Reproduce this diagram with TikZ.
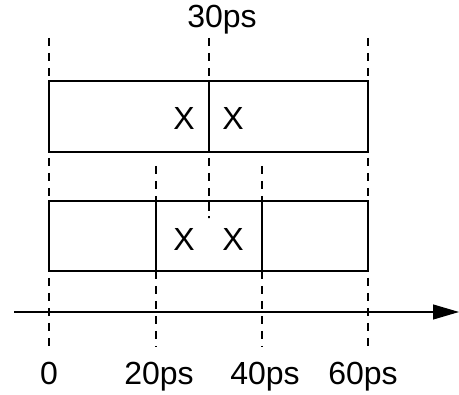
\documentclass[tikz,border=0pt]{standalone}
\usepackage{fontspec}
\setmainfont{Liberation Sans}
\usetikzlibrary{arrows.meta}
\begin{document}
\begin{tikzpicture}[x=1pt,y=-1pt,
  guide/.style={line width=1.1pt, dash pattern=on 8pt off 7pt},
  cell/.style={draw, line width=1.1pt, fill=white, inner sep=0pt, outer sep=0pt},
  lbl/.style={anchor=base, inner sep=0pt, font=\fontsize{32}{37}\selectfont},
  axisline/.style={line width=1.2pt, -{Triangle[length=26pt,width=15pt]}}]
\useasboundingbox (0,0) rectangle (459,395);
% guide end points
\coordinate (g0t) at (49,38);   \coordinate (g0b) at (49,347);
\coordinate (g30t) at (209,38); \coordinate (g30b) at (209,218);
\coordinate (g60t) at (368,38); \coordinate (g60b) at (368,347);
\coordinate (g20t) at (156,166); \coordinate (g20b) at (156,347);
\coordinate (g40t) at (262,166); \coordinate (g40b) at (262,347);
\draw[guide] (g0t) -- (g0b);
\draw[guide] (g30t) -- (g30b);
\draw[guide] (g60t) -- (g60b);
\draw[guide] (g20t) -- (g20b);
\draw[guide] (g40t) -- (g40b);
% top row
\draw[cell] (49,81) rectangle (209,152);
\draw[cell] (209,81) rectangle (368,152);
% bottom row (open in the middle so the 30ps guide shows)
\draw[cell] (49,201) rectangle (156,271);
\draw[cell] (262,201) rectangle (368,271);
\draw[line width=1.1pt] (156,201) -- (262,201) (156,271) -- (262,271);
\draw[guide] (g30t |- 201,201) -- (g30b);
% axis
\coordinate (axs) at (14,312);
\coordinate (axe) at (459,312);
\draw[axisline] (axs) -- (axe);
% labels
\node[lbl] (t30) at (222,28) {30ps};
\node[lbl] (x1) at (184,130) {X};
\node[lbl] (x2) at (233,130) {X};
\node[lbl] (x3) at (184,251) {X};
\node[lbl] (x4) at (233,251) {X};
\node[lbl] (l0) at (49,385) {0};
\node[lbl] (l20) at (159,385) {20ps};
\node[lbl] (l40) at (265,385) {40ps};
\node[lbl] (l60) at (363,385) {60ps};
\end{tikzpicture}
\end{document}
